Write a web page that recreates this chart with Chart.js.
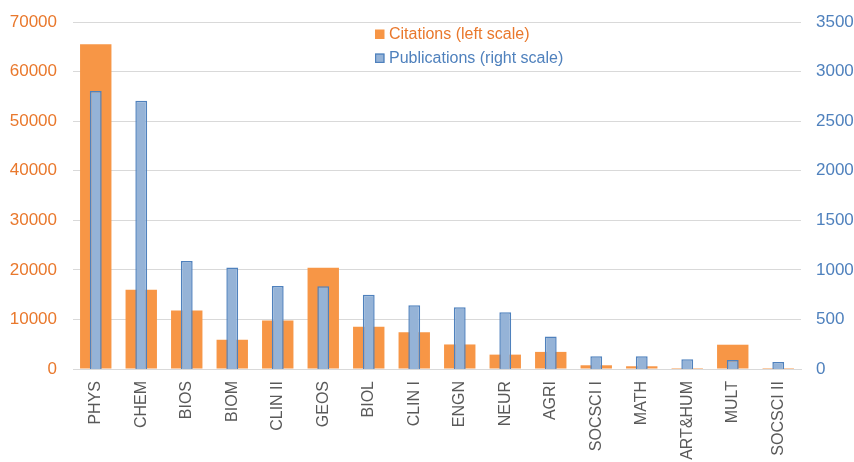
<!DOCTYPE html>
<html>
<head>
<meta charset="utf-8">
<script src="https://cdn.jsdelivr.net/npm/chart.js@4/dist/chart.umd.min.js"></script>
<style>
  html, body { margin: 0; padding: 0; background: #ffffff; }
  #wrap { width: 854px; height: 462px; }
</style>
</head>
<body>
<div id="wrap"><canvas id="c" width="854" height="462"></canvas></div>
<script>
// Subject categories
const categories = ["PHYS", "CHEM", "BIOS", "BIOM", "CLIN II", "GEOS", "BIOL", "CLIN I",
                    "ENGN", "NEUR", "AGRI", "SOCSCI I", "MATH", "ART&HUM", "MULT", "SOCSCI II"];
// Citations (left axis)
const citations = [65500, 16000, 11800, 5900, 9800, 20400, 8500, 7400,
                   4950, 2900, 3450, 750, 550, 200, 4900, 200];
// Publications (right axis)
const publications = [2805, 2705, 1090, 1025, 836, 835, 748, 643,
                      622, 572, 328, 129, 129, 99, 90, 70];
// Axis tick values
const leftTicks = [0, 10000, 20000, 30000, 40000, 50000, 60000, 70000];
const rightTicks = [0, 500, 1000, 1500, 2000, 2500, 3000, 3500];

const ORANGE = "#F79646";
const ORANGE_TEXT = "#E9782C";
const BLUE_FILL = "#95B3D7";
const BLUE_EDGE = "#4F81BD";
const BLUE_TEXT = "#4F81BD";
const FONT = "'Liberation Sans', Arial, sans-serif";

// Legend drawn inside the plot area, near the top
const legendPlugin = {
  id: "topLegend",
  afterDraw(chart) {
    const ctx = chart.ctx;
    const items = [
      { label: "Citations (left scale)", fill: ORANGE, edge: null, color: ORANGE_TEXT },
      { label: "Publications (right scale)", fill: BLUE_FILL, edge: BLUE_EDGE, color: BLUE_TEXT }
    ];
    const x0 = 375, y0 = 34, step = 24;
    ctx.save();
    ctx.font = "16px " + FONT;
    ctx.textBaseline = "middle";
    items.forEach((it, i) => {
      const y = y0 + i * step;
      ctx.fillStyle = it.fill;
      ctx.fillRect(x0, y - 4.5, 9.5, 9.5);
      if (it.edge) {
        ctx.strokeStyle = it.edge;
        ctx.lineWidth = 1.2;
        ctx.strokeRect(x0 + 0.6, y - 3.9, 8.3, 8.3);
      }
      ctx.fillStyle = it.color;
      ctx.fillText(it.label, x0 + 14, y + 1);
    });
    ctx.restore();
  }
};

const plainNumber = v => String(v);

// Fixed axis widths; vertical label overhang handled by layout padding
function fixWidth(w) {
  return axis => {
    axis.width = w;
    axis.paddingTop = 0;
    axis.paddingBottom = 0;
  };
}

new Chart(document.getElementById("c"), {
  type: "bar",
  data: {
    labels: categories,
    datasets: [
      {
        label: "Citations (left scale)",
        data: citations,
        yAxisID: "yL",
        backgroundColor: ORANGE,
        borderWidth: 0,
        barPercentage: 0.69,
        categoryPercentage: 1,
        grouped: false,
        order: 1
      },
      {
        label: "Publications (right scale)",
        data: publications,
        yAxisID: "yR",
        backgroundColor: BLUE_FILL,
        borderColor: BLUE_EDGE,
        borderWidth: 1.5,
        barPercentage: 0.26,
        categoryPercentage: 1,
        grouped: false,
        order: 0
      }
    ]
  },
  options: {
    responsive: false,
    animation: false,
    devicePixelRatio: 1,
    layout: { padding: { left: 10, right: 0, top: 22, bottom: 2 } },
    plugins: {
      legend: { display: false },
      tooltip: { enabled: false }
    },
    scales: {
      x: {
        afterFit(axis) { axis.height = 91; },
        grid: { display: false, drawTicks: false },
        border: { display: true, color: "#D9D9D9", width: 1 },
        ticks: {
          color: "#595959",
          font: { family: FONT, size: 16 },
          maxRotation: 90,
          minRotation: 90,
          padding: 12,
          autoSkip: false
        }
      },
      yL: {
        position: "left",
        min: 0,
        max: 70000,
        afterBuildTicks(axis) { axis.ticks = leftTicks.map(v => ({ value: v })); },
        afterFit: fixWidth(63),
        grid: { color: "#D9D9D9", lineWidth: 1, drawTicks: false },
        border: { display: false },
        ticks: {
          color: ORANGE_TEXT,
          font: { family: FONT, size: 17 },
          padding: 16,
          callback: plainNumber
        }
      },
      yR: {
        position: "right",
        min: 0,
        max: 3500,
        afterBuildTicks(axis) { axis.ticks = rightTicks.map(v => ({ value: v })); },
        afterFit: fixWidth(53),
        grid: { display: false, drawTicks: false },
        border: { display: false },
        ticks: {
          color: BLUE_TEXT,
          font: { family: FONT, size: 17 },
          padding: 15,
          callback: plainNumber
        }
      }
    }
  },
  plugins: [legendPlugin]
});
</script>
</body>
</html>
